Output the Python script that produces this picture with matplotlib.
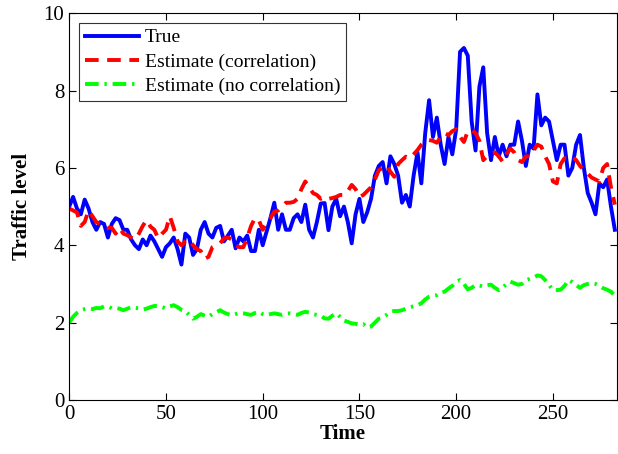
import numpy as np
import matplotlib
matplotlib.use('Agg')
import matplotlib.pyplot as plt

plt.rcParams['font.family'] = ['Liberation Serif', 'DejaVu Serif']

# time axis, one reading every 2 steps
time = np.arange(0, 284, 2)

true_level = [
    5.0, 5.25, 4.95, 4.8, 5.18, 4.95, 4.6, 4.4, 4.6, 4.55,
    4.2, 4.55, 4.7, 4.65, 4.4, 4.4, 4.15, 4.0, 3.9, 4.15,
    4.0, 4.25, 4.1, 3.9, 3.7, 3.95, 4.05, 4.2, 3.9, 3.5,
    4.3, 4.2, 3.75, 3.9, 4.4, 4.6, 4.3, 4.2, 4.45, 4.5,
    4.1, 4.25, 4.4, 3.92, 4.2, 4.1, 4.25, 3.85, 3.85, 4.4,
    4.0, 4.35, 4.7, 5.1, 4.4, 4.8, 4.4, 4.4, 4.7, 4.8,
    4.6, 5.05, 4.4, 4.2, 4.6, 5.08, 5.09, 4.39, 5.0, 5.2,
    4.75, 5.0, 4.6, 4.05, 4.8, 5.2, 4.6, 4.85, 5.2, 5.8,
    6.05, 6.15, 5.6, 6.3, 6.1, 5.8, 5.1, 5.3, 5.0, 5.8,
    6.4, 5.6, 6.9, 7.75, 6.8, 7.3, 6.6, 6.1, 6.8, 6.35,
    7.0, 9.0, 9.1, 8.9, 7.2, 6.45, 8.1, 8.6, 6.9, 6.2,
    6.8, 6.3, 6.6, 6.3, 6.6, 6.6, 7.2, 6.7, 6.05, 6.6,
    6.5, 7.9, 7.1, 7.3, 7.2, 6.7, 6.2, 6.6, 6.6, 5.8,
    6.0, 6.6, 6.85, 6.0, 5.35, 5.1, 4.8, 5.6, 5.5, 5.7,
    5.0, 4.4,
]

est_corr = [
    4.95, 4.9, 4.85, 4.5, 4.6, 4.9, 4.75, 4.6, 4.55, 4.5,
    4.45, 4.45, 4.3, 4.45, 4.3, 4.26, 4.2, 4.15, 4.3, 4.5,
    4.65, 4.48, 4.4, 4.18, 4.3, 4.4, 4.75, 4.45, 4.1, 4.0,
    4.1, 4.15, 4.0, 3.9, 3.85, 3.65, 3.7, 3.95, 4.0, 4.05,
    4.18, 4.2, 4.15, 4.0, 3.95, 3.95, 4.2, 4.5, 4.7, 4.65,
    4.4, 4.6, 4.7, 4.87, 4.9, 5.0, 5.1, 5.1, 5.12, 5.2,
    5.45, 5.65, 5.5, 5.35, 5.3, 5.2, 5.25, 5.2, 5.22, 5.25,
    5.3, 5.3, 5.4, 5.56, 5.45, 5.25, 5.3, 5.4, 5.5, 5.7,
    5.94, 6.0, 6.07, 5.9, 5.77, 6.1, 6.2, 6.29, 6.25, 6.35,
    6.46, 6.6, 6.7, 6.72, 6.7, 6.65, 6.8, 6.9, 6.85, 6.95,
    7.0, 6.8, 6.67, 6.95, 6.98, 6.9, 6.7, 6.2, 6.3, 6.36,
    6.4, 6.3, 6.16, 6.36, 6.5, 6.4, 6.2, 6.15, 6.3, 6.3,
    6.45, 6.6, 6.55, 6.3, 6.1, 5.65, 5.6, 6.1, 6.25, 6.25,
    6.3, 6.2, 6.05, 5.95, 5.85, 5.75, 5.7, 5.65, 6.0, 6.1,
    5.5, 5.05,
]

est_nocorr = [
    2.0, 2.15, 2.25, 2.32, 2.35, 2.37, 2.35, 2.38, 2.37, 2.42,
    2.42, 2.37, 2.38, 2.36, 2.32, 2.36, 2.4, 2.38, 2.37, 2.34,
    2.36, 2.4, 2.43, 2.43, 2.4, 2.37, 2.42, 2.45, 2.4, 2.33,
    2.3, 2.2, 2.1, 2.15, 2.22, 2.18, 2.15, 2.22, 2.27, 2.32,
    2.26, 2.22, 2.19, 2.22, 2.25, 2.24, 2.22, 2.2, 2.25, 2.28,
    2.22, 2.19, 2.22, 2.24, 2.22, 2.2, 2.23, 2.24, 2.22, 2.2,
    2.25, 2.28, 2.26, 2.22, 2.2, 2.18, 2.11, 2.1, 2.18, 2.24,
    2.15, 2.05, 2.02, 1.98, 1.97, 1.94, 1.96, 1.87, 1.9, 2.0,
    2.1, 2.14, 2.2, 2.28, 2.3, 2.3, 2.32, 2.36, 2.4, 2.42,
    2.45, 2.5, 2.6, 2.67, 2.7, 2.71, 2.78, 2.8, 2.88, 2.95,
    3.06, 3.1, 3.0, 2.86, 2.9, 2.97, 2.96, 2.93, 2.97, 2.98,
    2.9, 2.84, 2.9, 3.0, 3.06, 3.02, 2.98, 3.0, 3.1, 3.13,
    3.16, 3.22, 3.2, 3.1, 2.97, 2.84, 2.84, 2.85, 2.95, 3.1,
    3.05, 2.97, 2.9, 2.97, 3.0, 3.02, 3.0, 2.95, 2.89, 2.85,
    2.8, 2.7,
]

fig = plt.figure(figsize=(6.18, 4.54), dpi=100)
ax = fig.add_axes([0.112, 0.119, 0.886, 0.852])

ax.plot(time, true_level, color='#0000ff', lw=2.8, label='True')
ax.plot(time, est_corr, color='#ff0000', lw=2.8, ls='--', dashes=(3.5, 2.2),
        label='Estimate (correlation)')
ax.plot(time, est_nocorr, color='#00ff00', lw=2.8, ls='-.',
        dashes=(3.5, 1.5, 0.6, 1.5), label='Estimate (no correlation)')

ax.set_xlim(0, 283)
ax.set_ylim(0, 10)
ax.set_xticks([0, 50, 100, 150, 200, 250])
ax.set_yticks([0, 2, 4, 6, 8, 10])
ax.tick_params(direction='in', top=True, right=True, labelsize=15, length=5)

ax.set_xlabel('Time', fontsize=15, fontweight='bold', labelpad=0)
ax.set_ylabel('Traffic level', fontsize=15, fontweight='bold', labelpad=8)

leg = ax.legend(loc='upper left', fontsize=14, fancybox=False, edgecolor='black',
                handlelength=2.8, borderaxespad=0.5, labelspacing=0.35,
                handletextpad=0.3, borderpad=0.3)
leg.get_frame().set_linewidth(0.8)

fig.savefig('out.png', dpi=100)
